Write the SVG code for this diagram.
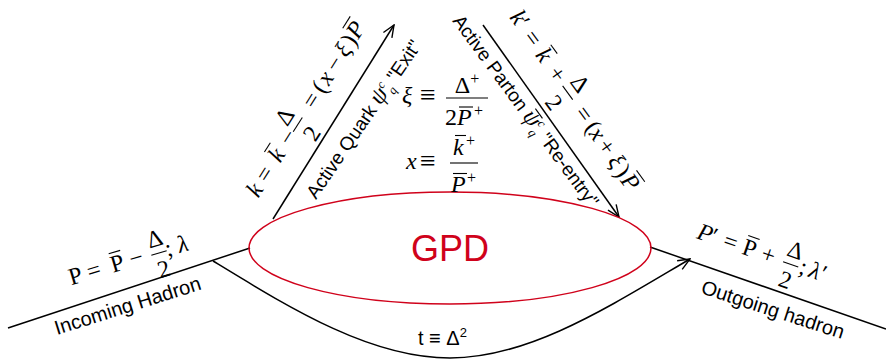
<svg xmlns="http://www.w3.org/2000/svg" width="886" height="361" viewBox="0 0 886 361">
<style>
.ln{stroke:#000;stroke-width:1.5;fill:none}
.ob{stroke:#000;stroke-width:1.1}
.m{font-family:"Liberation Serif","Times New Roman",serif;font-size:24px;fill:#000}
.i{font-style:italic}
.c{text-anchor:middle}
.eq{font-size:28px}
.s{font-family:"Liberation Sans",Arial,sans-serif;font-size:20px;fill:#000}
.s19{font-size:19px}
.sm{font-family:"Liberation Serif","Times New Roman",serif;font-style:italic;font-size:12.5px}
.sp{font-size:16px}
</style>
<defs>
<marker id="ah" markerUnits="userSpaceOnUse" markerWidth="14" markerHeight="12" viewBox="0 0 14 12" refX="13" refY="6" orient="auto">
<path d="M1,1 L13,6 L1,11" fill="none" stroke="#000" stroke-width="1.4"/>
</marker>
</defs>
<rect width="886" height="361" fill="#fff"/>

<g id="connectors">
<line class="ln" x1="8" y1="328" x2="250" y2="248"/>
<line class="ln" x1="650" y1="247" x2="886" y2="329"/>
<line class="ln" x1="273" y1="219" x2="394" y2="25" marker-end="url(#ah)"/>
<line class="ln" x1="483" y1="25" x2="619" y2="217" marker-end="url(#ah)"/>
<path class="ln" d="M213,261 C290,308 370,358 450,358 C530,358 610,306 690,259" marker-end="url(#ah)"/>
</g>

<g id="gpd">
<ellipse cx="450" cy="248" rx="201" ry="56" fill="none" stroke="#d0021b" stroke-width="1.5"/>
<text x="450" y="261" text-anchor="middle" font-family="Liberation Sans, Arial, sans-serif" font-size="36" fill="#d0021b">GPD</text>
</g>

<g id="incoming-hadron">
<g transform="translate(72,285) rotate(-16.5)">
<text class="m c" x="6" y="0">P</text>
<text class="m c" x="25" y="0">=</text>
<text class="m c" x="49.5" y="0">P</text>
<line class="ob" x1="44" y1="-19.5" x2="56" y2="-19.5"/>
<text class="m c" x="69" y="0">−</text>
<text class="m c" x="92.5" y="-13">Δ</text>
<line class="ob" x1="84.5" y1="-6" x2="100.5" y2="-6"/>
<text class="m c" x="92.5" y="18.5">2</text>
<text class="m c" x="103" y="0">;</text>
<text class="m i c" x="117.5" y="0">λ</text>
</g>
<text class="s" transform="translate(57,335) rotate(-17.5)">Incoming Hadron</text>
</g>

<g id="outgoing-hadron">
<g transform="translate(697,238.5) rotate(19)">
<text class="m i c" x="6" y="0">P</text>
<text class="m" x="13" y="0">′</text>
<text class="m c" x="33" y="0">=</text>
<text class="m c" x="53" y="0">P</text>
<line class="ob" x1="47.5" y1="-19.5" x2="59.5" y2="-19.5"/>
<text class="m c" x="73" y="0">+</text>
<text class="m c" x="97" y="-13">Δ</text>
<line class="ob" x1="89" y1="-6" x2="105" y2="-6"/>
<text class="m c" x="97" y="18.5">2</text>
<text class="m c" x="110" y="0">;</text>
<text class="m i c" x="122" y="0">λ</text>
<text class="m" x="128.5" y="0">′</text>
</g>
<text class="s" transform="translate(700,293) rotate(18)">Outgoing hadron</text>
</g>

<g id="active-quark">
<g transform="translate(273,219) rotate(-57.7)">
<text class="m i c" x="14.8" y="-23.5">k</text>
<text class="m c" x="33.5" y="-23.5">=</text>
<text class="m i c" x="56.1" y="-23.5">k</text>
<line class="ob" x1="52" y1="-43" x2="63" y2="-43"/>
<text class="m c" x="77.2" y="-23.5">−</text>
<text class="m c" x="93" y="-37">Δ</text>
<line class="ob" x1="84.5" y1="-29.5" x2="101.5" y2="-29.5"/>
<text class="m c" x="93" y="-5">2</text>
<text class="m c" x="121" y="-23.5">=</text>
<text class="m c" x="136.2" y="-23.5">(</text>
<text class="m i c" x="147.2" y="-23.5">x</text>
<text class="m c" x="164.2" y="-23.5">−</text>
<text class="m i c" x="180.2" y="-23.5">ξ</text>
<text class="m c" x="192.2" y="-23.5">)</text>
<text class="m i c" x="204.2" y="-23.5">P</text>
<line class="ob" x1="198.5" y1="-43" x2="212.5" y2="-43"/>
</g>
<text class="s s19" transform="translate(316,200) rotate(-55.5)">Active Quark <tspan class="m i" font-size="19">ψ</tspan><tspan class="sm" dy="-8">c</tspan><tspan class="sm" dx="-4" dy="13">q</tspan><tspan dy="-5"> "Exit"</tspan></text>
</g>

<g id="active-parton">
<g transform="translate(483,25) rotate(53.8)">
<text class="m i c" x="14.6" y="-25.5">k</text>
<text class="m" x="19.5" y="-25.5">′</text>
<text class="m c" x="40" y="-24.6">=</text>
<text class="m i c" x="60.2" y="-23.9">k</text>
<line class="ob" x1="56" y1="-43" x2="67" y2="-43"/>
<text class="m c" x="83.4" y="-23.1">+</text>
<text class="m c" x="104.7" y="-36">Δ</text>
<line class="ob" x1="96.2" y1="-28.3" x2="113.2" y2="-28.3"/>
<text class="m c" x="104.7" y="-3.5">2</text>
<text class="m c" x="131.4" y="-21.4">=</text>
<text class="m c" x="146.8" y="-20.9">(</text>
<text class="m i c" x="155.6" y="-20.6">x</text>
<text class="m c" x="171.5" y="-20">+</text>
<text class="m i c" x="188.5" y="-19.4">ξ</text>
<text class="m c" x="200.6" y="-19">)</text>
<text class="m i c" x="213.8" y="-18.5">P</text>
<line class="ob" x1="208" y1="-38" x2="222" y2="-38"/>
</g>
<g transform="translate(452,21) rotate(53.8)">
<text class="s s19" x="0" y="0">Active Parton <tspan class="m i" font-size="19">ψ</tspan><tspan class="sm" dy="-8">c</tspan><tspan class="sm" dx="-4" dy="13">q</tspan><tspan dy="-5"> "Re-entry"</tspan></text>
<line class="ob" x1="120" y1="-15.5" x2="132" y2="-15.5"/>
</g>
</g>

<g id="xi-def">
<text class="m i" x="402" y="103">ξ</text>
<text class="m eq" x="420" y="104">≡</text>
<text class="m c" x="467" y="93">Δ<tspan class="sp" dy="-9">+</tspan></text>
<line class="ob" x1="446" y1="98" x2="488" y2="98"/>
<text class="m" x="445" y="125">2</text>
<text class="m i" x="457" y="125">P</text>
<line class="ob" x1="459" y1="107" x2="473" y2="107"/>
<text class="m sp" x="474" y="116">+</text>
</g>

<g id="x-def">
<text class="m i" x="406" y="168.5">x</text>
<text class="m eq" x="420" y="169.5">≡</text>
<text class="m i" x="453" y="155">k</text>
<line class="ob" x1="455" y1="135.5" x2="466" y2="135.5"/>
<text class="m sp" x="466" y="146">+</text>
<line class="ob" x1="450" y1="163" x2="478" y2="163"/>
<text class="m i" x="451" y="192">P</text>
<line class="ob" x1="453" y1="173.5" x2="467" y2="173.5"/>
<text class="m sp" x="467" y="183">+</text>
</g>

<g id="t-def">
<text class="s" x="418" y="345" font-size="20.5">t ≡ Δ<tspan font-size="13" dy="-8">2</tspan></text>
</g>
</svg>
